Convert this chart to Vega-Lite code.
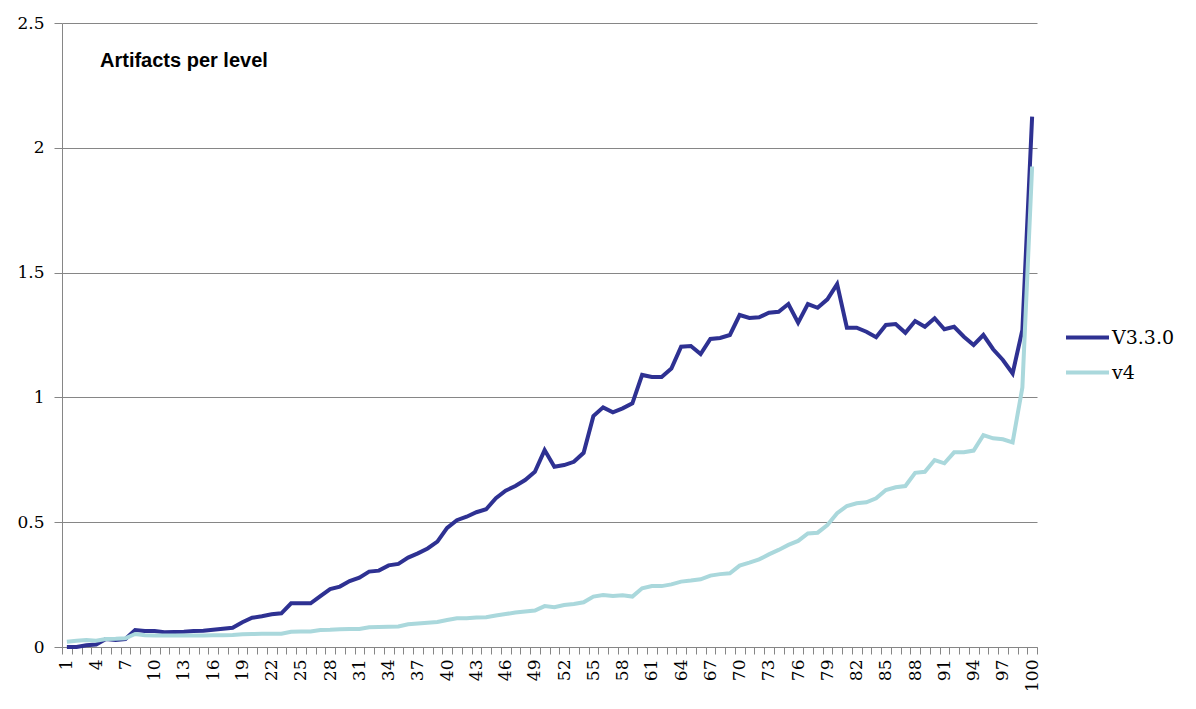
{
  "$schema": "https://vega.github.io/schema/vega-lite/v6.json",
  "autosize": "none",
  "width": 975,
  "height": 624,
  "padding": {"left": 62, "top": 23, "right": 159, "bottom": 62},
  "background": "white",
  "title": {
    "text": "Artifacts per level",
    "anchor": "start",
    "frame": "group",
    "orient": "top",
    "baseline": "alphabetic",
    "offset": 0,
    "dx": 38,
    "dy": 73,
    "font": "Liberation Sans",
    "fontSize": 20,
    "fontWeight": "bold",
    "color": "black"
  },
  "data": {
    "values": [
      {"level":1,"old":0.000,"v4":0.021},{"level":2,"old":0.000,"v4":0.025},{"level":3,"old":0.007,"v4":0.028},{"level":4,"old":0.010,"v4":0.025},{"level":5,"old":0.032,"v4":0.032},
      {"level":6,"old":0.028,"v4":0.033},{"level":7,"old":0.032,"v4":0.035},{"level":8,"old":0.068,"v4":0.052},{"level":9,"old":0.064,"v4":0.047},{"level":10,"old":0.064,"v4":0.046},
      {"level":11,"old":0.059,"v4":0.046},{"level":12,"old":0.060,"v4":0.046},{"level":13,"old":0.061,"v4":0.046},{"level":14,"old":0.064,"v4":0.046},{"level":15,"old":0.065,"v4":0.046},
      {"level":16,"old":0.069,"v4":0.047},{"level":17,"old":0.073,"v4":0.047},{"level":18,"old":0.077,"v4":0.048},{"level":19,"old":0.099,"v4":0.051},{"level":20,"old":0.117,"v4":0.052},
      {"level":21,"old":0.123,"v4":0.053},{"level":22,"old":0.131,"v4":0.053},{"level":23,"old":0.135,"v4":0.053},{"level":24,"old":0.175,"v4":0.061},{"level":25,"old":0.175,"v4":0.062},
      {"level":26,"old":0.175,"v4":0.062},{"level":27,"old":0.204,"v4":0.068},{"level":28,"old":0.232,"v4":0.069},{"level":29,"old":0.242,"v4":0.071},{"level":30,"old":0.264,"v4":0.072},
      {"level":31,"old":0.278,"v4":0.072},{"level":32,"old":0.302,"v4":0.079},{"level":33,"old":0.306,"v4":0.080},{"level":34,"old":0.327,"v4":0.081},{"level":35,"old":0.333,"v4":0.082},
      {"level":36,"old":0.358,"v4":0.091},{"level":37,"old":0.375,"v4":0.094},{"level":38,"old":0.395,"v4":0.097},{"level":39,"old":0.422,"v4":0.100},{"level":40,"old":0.477,"v4":0.108},
      {"level":41,"old":0.508,"v4":0.115},{"level":42,"old":0.522,"v4":0.115},{"level":43,"old":0.540,"v4":0.118},{"level":44,"old":0.552,"v4":0.119},{"level":45,"old":0.596,"v4":0.126},
      {"level":46,"old":0.626,"v4":0.132},{"level":47,"old":0.645,"v4":0.138},{"level":48,"old":0.669,"v4":0.142},{"level":49,"old":0.702,"v4":0.146},{"level":50,"old":0.789,"v4":0.164},
      {"level":51,"old":0.722,"v4":0.159},{"level":52,"old":0.729,"v4":0.168},{"level":53,"old":0.742,"v4":0.172},{"level":54,"old":0.778,"v4":0.179},{"level":55,"old":0.925,"v4":0.202},
      {"level":56,"old":0.960,"v4":0.208},{"level":57,"old":0.940,"v4":0.204},{"level":58,"old":0.956,"v4":0.207},{"level":59,"old":0.976,"v4":0.202},{"level":60,"old":1.090,"v4":0.235},
      {"level":61,"old":1.082,"v4":0.244},{"level":62,"old":1.082,"v4":0.244},{"level":63,"old":1.116,"v4":0.251},{"level":64,"old":1.203,"v4":0.262},{"level":65,"old":1.206,"v4":0.266},
      {"level":66,"old":1.174,"v4":0.271},{"level":67,"old":1.234,"v4":0.286},{"level":68,"old":1.238,"v4":0.292},{"level":69,"old":1.250,"v4":0.295},{"level":70,"old":1.330,"v4":0.326},
      {"level":71,"old":1.318,"v4":0.338},{"level":72,"old":1.321,"v4":0.351},{"level":73,"old":1.339,"v4":0.371},{"level":74,"old":1.343,"v4":0.389},{"level":75,"old":1.374,"v4":0.409},
      {"level":76,"old":1.299,"v4":0.425},{"level":77,"old":1.374,"v4":0.455},{"level":78,"old":1.359,"v4":0.458},{"level":79,"old":1.393,"v4":0.489},{"level":80,"old":1.454,"v4":0.536},
      {"level":81,"old":1.279,"v4":0.565},{"level":82,"old":1.279,"v4":0.576},{"level":83,"old":1.263,"v4":0.580},{"level":84,"old":1.241,"v4":0.596},{"level":85,"old":1.290,"v4":0.629},
      {"level":86,"old":1.294,"v4":0.640},{"level":87,"old":1.259,"v4":0.645},{"level":88,"old":1.306,"v4":0.698},{"level":89,"old":1.283,"v4":0.702},{"level":90,"old":1.317,"v4":0.749},
      {"level":91,"old":1.273,"v4":0.736},{"level":92,"old":1.283,"v4":0.780},{"level":93,"old":1.243,"v4":0.780},{"level":94,"old":1.210,"v4":0.787},{"level":95,"old":1.250,"v4":0.849},
      {"level":96,"old":1.193,"v4":0.836},{"level":97,"old":1.150,"v4":0.832},{"level":98,"old":1.096,"v4":0.820},{"level":99,"old":1.270,"v4":1.040},{"level":100,"old":2.125,"v4":1.925}
    ]
  },
  "transform": [
    {"fold": ["old", "v4"], "as": ["series", "value"]}
  ],
  "mark": {"type": "line", "strokeWidth": 4, "strokeJoin": "miter", "strokeCap": "butt"},
  "encoding": {
    "x": {
      "field": "level",
      "type": "ordinal",
      "sort": "ascending",
      "scale": {"type": "band", "paddingInner": 0, "paddingOuter": 0},
      "axis": {
        "title": null,
        "tickBand": "extent",
        "labelExpr": "(datum.value - 1) % 3 == 0 ? datum.label : ''",
        "labelOverlap": false,
        "labelAngle": -90,
        "labelFont": "DejaVu Serif",
        "labelFontSize": 17,
        "labelColor": "black",
        "labelPadding": 5,
        "domainColor": "#868686",
        "tickColor": "#868686",
        "tickSize": 7,
        "grid": false
      }
    },
    "y": {
      "field": "value",
      "type": "quantitative",
      "scale": {"domain": [0, 2.5], "nice": false, "zero": true},
      "axis": {
        "title": null,
        "values": [0, 0.5, 1, 1.5, 2, 2.5],
        "format": "~g",
        "grid": true,
        "gridColor": "#868686",
        "gridOpacity": 1,
        "domainColor": "#868686",
        "tickColor": "#868686",
        "tickSize": 8,
        "labelFont": "DejaVu Serif",
        "labelFontSize": 17,
        "labelColor": "black",
        "labelPadding": 10
      }
    },
    "color": {
      "field": "series",
      "type": "nominal",
      "scale": {"domain": ["old", "v4"], "range": ["#2E3192", "#AAD8DC"]},
      "legend": {
        "title": null,
        "orient": "none",
        "legendX": 1002,
        "legendY": 291,
        "padding": 0,
        "symbolType": "stroke",
        "symbolSize": 1849,
        "symbolStrokeWidth": 4,
        "labelExpr": "datum.value == 'old' ? 'V3.3.0' : 'v4'",
        "labelFont": "DejaVu Serif",
        "labelFontSize": 19,
        "labelColor": "black",
        "labelOffset": 1,
        "rowPadding": 1
      }
    }
  },
  "config": {"view": {"stroke": null}}
}
